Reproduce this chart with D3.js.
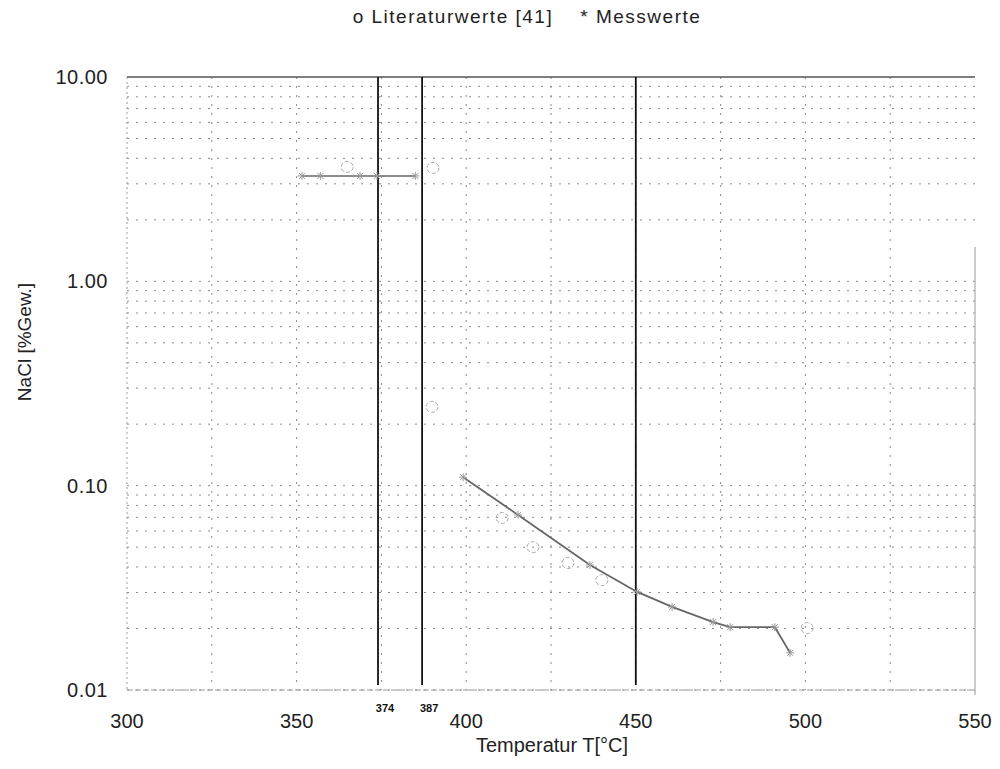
<!DOCTYPE html>
<html><head><meta charset="utf-8">
<script src="https://cdn.jsdelivr.net/npm/d3@7"></script>
<style>body{margin:0;background:#fff}svg{display:block}text{font-family:"Liberation Sans",Arial,sans-serif}</style>
</head><body><svg id="c" width="1000" height="769"></svg>
<script>
// Data
const xTicks = [300, 350, 400, 450, 500, 550];
const xGrid = [325, 350, 375, 400, 425, 450, 475, 500, 525];
const yTicks = [0.01, 0.1, 1, 10];
const yTickLabels = ["0.01", "0.10", "1.00", "10.00"];
const refLines = [374, 387, 450];
const refLabels = ["374", "387"];
// Messwerte (measured, * markers) upper branch
const messUpperT = [351.6, 357, 368.7, 373.7, 385];
const messUpperV = [3.28, 3.28, 3.28, 3.28, 3.28];
// Messwerte lower branch
const messLowerT = [399.1, 415.3, 436.5, 450.4, 460.7, 472.8, 477.8, 491.0, 495.5];
const messLowerV = [0.110, 0.0719, 0.0409, 0.0302, 0.0255, 0.0215, 0.0203, 0.0203, 0.0152];
// Literaturwerte [41] (o markers)
const litT = [364.9, 390.2, 389.9, 410.6, 419.7, 430.0, 440.0, 500.5];
const litV = [3.63, 3.59, 0.243, 0.0695, 0.050, 0.0418, 0.0345, 0.0201];

const svg = d3.select("#c");
const L = 127, R = 975, T = 77, B = 690;
const x = d3.scaleLinear().domain([300, 550]).range([L, R]);
const y = d3.scaleLog().domain([0.01, 10]).range([B, T]);

const grid = svg.append("g").attr("stroke", "#8a8a8a").attr("stroke-width", 1).attr("stroke-dasharray", "2,7");
xGrid.forEach(v => grid.append("line").attr("x1", x(v)).attr("x2", x(v)).attr("y1", T).attr("y2", B));
const hVals = [];
[0.01, 0.1, 1].forEach(d => { for (let k = 1; k <= 9; k++) hVals.push(d * k); });
hVals.forEach(v => grid.append("line").attr("x1", L).attr("x2", R).attr("y1", y(v)).attr("y2", y(v)));

// frame
svg.append("line").attr("x1", L).attr("x2", R).attr("y1", T).attr("y2", T).attr("stroke", "#555").attr("stroke-width", 1.5);
svg.append("line").attr("x1", L).attr("x2", L).attr("y1", T).attr("y2", B).attr("stroke", "#999").attr("stroke-dasharray", "2,3");
svg.append("line").attr("x1", L).attr("x2", R).attr("y1", B).attr("y2", B).attr("stroke", "#999").attr("stroke-dasharray", "6,2");
svg.append("line").attr("x1", R).attr("x2", R).attr("y1", T + 170).attr("y2", B + 5).attr("stroke", "#aaa").attr("stroke-width", 1.2);

// reference vertical lines
refLines.forEach(v => svg.append("line").attr("x1", x(v)).attr("x2", x(v)).attr("y1", T).attr("y2", B - 5)
  .attr("stroke", "#111").attr("stroke-width", 1.8));
refLabels.forEach((s, i) => svg.append("text").attr("x", x(refLines[i]) + 7).attr("y", 712)
  .attr("text-anchor", "middle").attr("font-size", 11).attr("font-weight", "bold").attr("fill", "#111").text(s));

// lines
const line = d3.line().x(d => x(d[0])).y(d => y(d[1]));
svg.append("path").datum(messUpperT.map((t, i) => [t, messUpperV[i]])).attr("d", line)
  .attr("fill", "none").attr("stroke", "#666").attr("stroke-width", 1.5);
svg.append("path").datum(messLowerT.map((t, i) => [t, messLowerV[i]])).attr("d", line)
  .attr("fill", "none").attr("stroke", "#666").attr("stroke-width", 1.8);

// star markers
const starPath = "M-4,0L4,0M0,-4L0,4M-3,-3L3,3M-3,3L3,-3";
[...messUpperT.map((t, i) => [t, messUpperV[i]]), ...messLowerT.map((t, i) => [t, messLowerV[i]])].forEach(d => {
  svg.append("path").attr("d", starPath).attr("transform", `translate(${x(d[0])},${y(d[1])})`)
    .attr("stroke", "#999").attr("stroke-width", 1).attr("fill", "none");
});
// circle markers
litT.forEach((t, i) => svg.append("ellipse").attr("cx", x(t)).attr("cy", y(litV[i])).attr("rx", 6).attr("ry", 5.5)
  .attr("fill", "none").attr("stroke", "#aaa").attr("stroke-width", 1).attr("stroke-dasharray", "4,2"));

// tick labels
yTicks.forEach((v, i) => svg.append("text").attr("x", 108).attr("y", y(v) + 7).attr("text-anchor", "end")
  .attr("font-size", 20).attr("letter-spacing", 0.5).attr("fill", "#222").text(yTickLabels[i]));
xTicks.forEach(v => svg.append("text").attr("x", x(v)).attr("y", 728).attr("text-anchor", "middle")
  .attr("font-size", 20).attr("fill", "#222").text(v));

// titles
svg.append("text").attr("x", 552).attr("y", 752).attr("text-anchor", "middle").attr("font-size", 20).attr("fill", "#222").text("Temperatur T[°C]");
svg.append("text").attr("transform", "translate(31,342) rotate(-90)").attr("text-anchor", "middle").attr("font-size", 19).attr("fill", "#222").text("NaCl [%Gew.]");
svg.append("text").attr("x", 527).attr("y", 23).attr("text-anchor", "middle").attr("font-size", 19).attr("letter-spacing", 1.5).attr("fill", "#222")
  .attr("xml:space", "preserve").style("white-space", "pre").text("o Literaturwerte [41]    * Messwerte");
</script></body></html>
